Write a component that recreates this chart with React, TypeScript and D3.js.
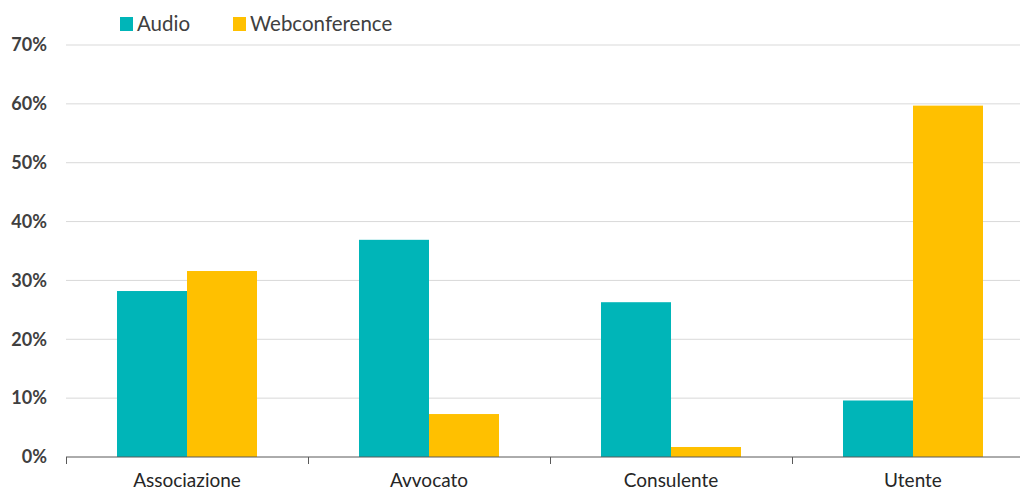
import React from "react";
import * as d3 from "d3";

const categories = ["Associazione", "Avvocato", "Consulente", "Utente"];
const seriesNames = ["Audio", "Webconference"];
const audioValues = [28.2, 36.9, 26.3, 9.6];
const webValues = [31.6, 7.3, 1.7, 59.7];
const yTicks = [0, 10, 20, 30, 40, 50, 60, 70];
const colors = ["#00B5B8", "#FFC000"];

const W = 1020;
const H = 492;
const FONT = "Lato, 'Open Sans', sans-serif";

export default function App() {
  const x0 = d3.scaleBand<string>().domain(categories).range([66, 1034]).padding(0);
  const x1 = d3
    .scaleBand<string>()
    .domain(seriesNames)
    .range([0, x0.bandwidth()])
    .paddingInner(0)
    .paddingOuter(0.7286);
  const y = d3.scaleLinear().domain([0, 70]).range([457, 45]);
  const series = [audioValues, webValues];

  return (
    <svg
      width={W}
      height={H}
      style={{ position: "absolute", left: 0, top: 0, background: "#fff" }}
      fontFamily={FONT}
    >
      {yTicks.map((t) =>
        t === 0 ? null : (
          <line key={t} x1={66} x2={1034} y1={y(t)} y2={y(t)} stroke="#d9d9d9" strokeWidth={1} />
        )
      )}
      {categories.map((c, i) =>
        series.map((vals, s) => (
          <rect
            key={c + s}
            x={(x0(c) as number) + (x1(seriesNames[s]) as number)}
            y={y(vals[i])}
            width={x1.bandwidth()}
            height={y(0) - y(vals[i])}
            fill={colors[s]}
          />
        ))
      )}
      <line x1={66} x2={1034} y1={y(0)} y2={y(0)} stroke="#595959" strokeWidth={1} />
      {categories.map((c) => (
        <line
          key={"tk" + c}
          x1={(x0(c) as number) + 0.5}
          x2={(x0(c) as number) + 0.5}
          y1={y(0)}
          y2={y(0) + 7}
          stroke="#595959"
          strokeWidth={1}
        />
      ))}
      {yTicks.map((t) => (
        <text
          key={"yl" + t}
          x={47}
          y={y(t)}
          dy="0.35em"
          textAnchor="end"
          fontSize={18}
          fontWeight="bold"
          fill="#404040"
        >
          {t + "%"}
        </text>
      ))}
      {categories.map((c) => (
        <text
          key={"xl" + c}
          x={(x0(c) as number) + x0.bandwidth() / 2}
          y={487}
          textAnchor="middle"
          fontSize={19}
          fill="#262626"
        >
          {c}
        </text>
      ))}
      {seriesNames.map((s, i) => {
        const lx = i === 0 ? 120 : 233;
        return (
          <g key={"lg" + s}>
            <rect x={lx} y={17} width={13} height={14} fill={colors[i]} />
            <text x={lx + 17} y={31} fontSize={20.5} fill="#404040">
              {s}
            </text>
          </g>
        );
      })}
    </svg>
  );
}
